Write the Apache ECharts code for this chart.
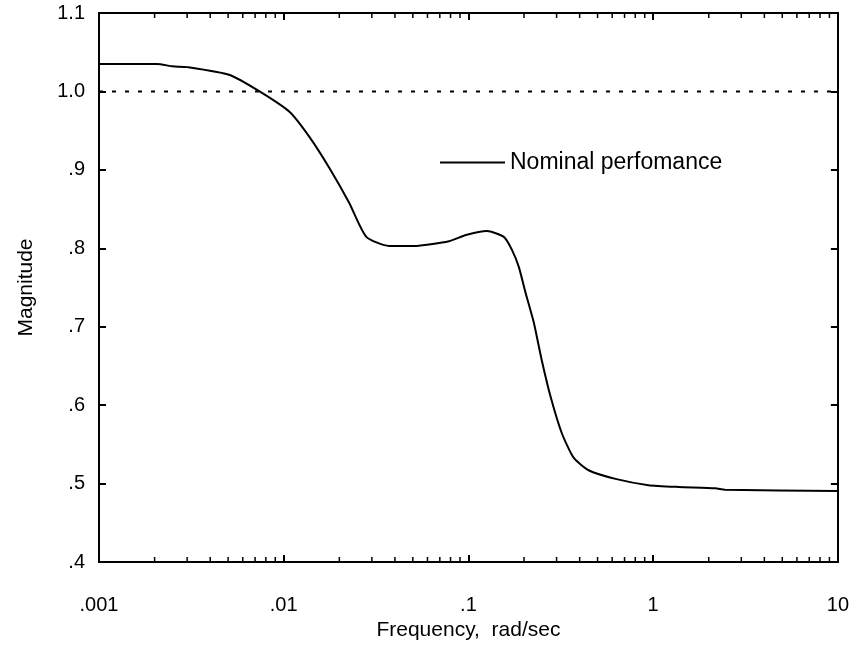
<!DOCTYPE html>
<html>
<head>
<meta charset="utf-8">
<script src="https://cdn.jsdelivr.net/npm/echarts@6/dist/echarts.min.js"></script>
<style>html,body{margin:0;padding:0;background:#fff;}#c{width:852px;height:647px;}</style>
</head>
<body>
<div id="c"></div>
<script>
const seriesName = 'Nominal perfomance';
const freq = [0.001, 0.00206, 0.0025, 0.003, 0.0051, 0.0074, 0.01074, 0.01377, 0.0177, 0.0226, 0.028, 0.0372, 0.0521, 0.0785, 0.097, 0.126, 0.1555, 0.172, 0.1875, 0.204, 0.226, 0.249, 0.279, 0.32, 0.371, 0.447, 0.625, 0.943, 1.37, 2.17, 2.45, 10];
const magnitude = [1.035, 1.035, 1.032, 1.031, 1.021, 1.0, 0.974, 0.942, 0.902, 0.858, 0.8145, 0.803, 0.803, 0.809, 0.817, 0.822, 0.8145, 0.798, 0.776, 0.743, 0.705, 0.658, 0.610, 0.5645, 0.533, 0.517, 0.506, 0.498, 0.4957, 0.494, 0.492, 0.4906];
const refFreq = [0.001, 10];
const refMag = [1.0, 1.0];
const xTickLabels = {0.001: '.001', 0.01: '.01', 0.1: '.1', 1: '1', 10: '10'};
const yTickLabels = {0.4: '.4', 0.5: '.5', 0.6: '.6', 0.7: '.7', 0.8: '.8', 0.9: '.9', 1.0: '1.0', 1.1: '1.1'};
const decades = [0.001, 0.01, 0.1, 1];
const minorMult = [2, 3, 4, 5, 6, 7, 8, 9];

const minorTicks = [];
decades.forEach(d => minorMult.forEach(m => minorTicks.push([+(d * m).toPrecision(3), 0.4])));

const FONT = 'Liberation Sans, Arial, Helvetica, sans-serif';
const chart = echarts.init(document.getElementById('c'));

function yLabel(v) {
  const k = Math.round(v * 10) / 10;
  return yTickLabels[k] !== undefined ? yTickLabels[k] : '';
}
function xLabel(v) {
  for (const k in xTickLabels) { if (Math.abs(Math.log10(v) - Math.log10(+k)) < 1e-6) return xTickLabels[k]; }
  return '';
}

chart.setOption({
  animation: false,
  backgroundColor: '#fff',
  grid: {left: 99, right: 12, top: 13, bottom: 85},
  legend: {
    data: [{name: seriesName, icon: 'rect'}],
    left: 435, top: 146,
    itemWidth: 65, itemHeight: 2, itemGap: 10,
    textStyle: {fontFamily: FONT, fontSize: 23, color: '#000'},
    selectedMode: false
  },
  xAxis: [{
    type: 'log', logBase: 10, min: 0.001, max: 10,
    name: 'Frequency,  rad/sec', nameLocation: 'middle', nameGap: 57,
    nameTextStyle: {fontFamily: FONT, fontSize: 21, color: '#000'},
    axisLine: {lineStyle: {color: '#000', width: 2}},
    axisTick: {inside: true, length: 7, lineStyle: {color: '#000', width: 2}},
    axisLabel: {fontFamily: FONT, fontSize: 20, color: '#000', margin: 33, formatter: xLabel},
    splitLine: {show: false}
  }, {
    type: 'log', logBase: 10, min: 0.001, max: 10, position: 'top',
    axisLine: {lineStyle: {color: '#000', width: 2}},
    axisTick: {inside: true, length: 7, lineStyle: {color: '#000', width: 2}},
    axisLabel: {show: false}, splitLine: {show: false}
  }],
  yAxis: [{
    type: 'value', min: 0.4, max: 1.1, interval: 0.1,
    name: 'Magnitude', nameLocation: 'middle', nameGap: 62, nameRotate: 90,
    nameTextStyle: {fontFamily: FONT, fontSize: 21, color: '#000'},
    axisLine: {show: true, lineStyle: {color: '#000', width: 2}},
    axisTick: {show: true, inside: true, length: 7, lineStyle: {color: '#000', width: 2}},
    axisLabel: {fontFamily: FONT, fontSize: 20, color: '#000', margin: 14, formatter: yLabel},
    splitLine: {show: false}
  }, {
    type: 'value', min: 0.4, max: 1.1, interval: 0.1, position: 'right',
    axisLine: {show: true, lineStyle: {color: '#000', width: 2}},
    axisTick: {show: true, inside: true, length: 7, lineStyle: {color: '#000', width: 2}},
    axisLabel: {show: false}, splitLine: {show: false}
  }],
  series: [{
    name: seriesName, type: 'line',
    data: freq.map((f, i) => [f, magnitude[i]]),
    showSymbol: false, symbol: 'none', smooth: 0.2,
    itemStyle: {color: '#000'},
    lineStyle: {color: '#000', width: 2}
  }, {
    name: 'ref', type: 'line',
    data: refFreq.map((f, i) => [f, refMag[i]]),
    showSymbol: false, symbol: 'none',
    lineStyle: {color: '#000', width: 2, type: [4, 9]}
  }, {
    name: 'minor', type: 'custom',
    data: minorTicks,
    silent: true,
    renderItem: function (params, api) {
      const p = api.coord([api.value(0), api.value(1)]);
      const cs = params.coordSys;
      const len = 5;
      return {
        type: 'group',
        children: [
          {type: 'line', shape: {x1: p[0], y1: cs.y + cs.height, x2: p[0], y2: cs.y + cs.height - len}, style: {stroke: '#000', lineWidth: 1.5}},
          {type: 'line', shape: {x1: p[0], y1: cs.y, x2: p[0], y2: cs.y + len}, style: {stroke: '#000', lineWidth: 1.5}}
        ]
      };
    }
  }]
});
</script>
</body>
</html>
